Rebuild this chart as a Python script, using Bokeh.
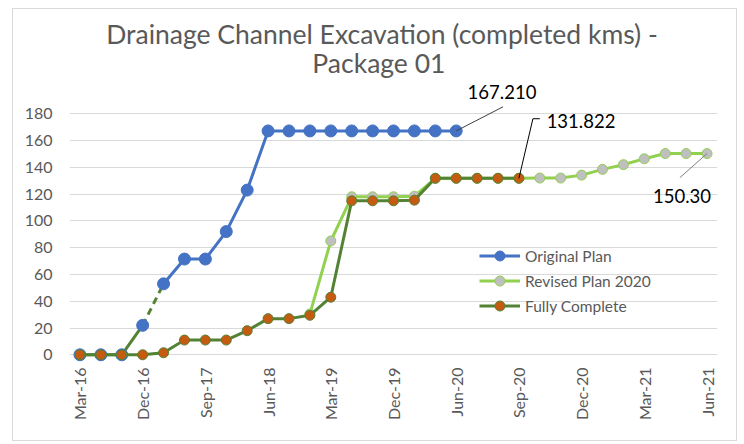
import math
from bokeh.plotting import figure
from bokeh.models import FixedTicker, Label, Legend, LegendItem
from bokeh.embed import file_html
from bokeh.resources import INLINE

# ---------------- data ----------------
categories = ["Mar-16", "Jun-16", "Sep-16", "Dec-16", "Mar-17", "Jun-17", "Sep-17",
              "Dec-17", "Mar-18", "Jun-18", "Sep-18", "Dec-18", "Mar-19", "Jun-19",
              "Sep-19", "Dec-19", "Feb-20", "Apr-20", "Jun-20", "Jul-20", "Aug-20",
              "Sep-20", "Oct-20", "Nov-20", "Dec-20", "Jan-21", "Feb-21", "Mar-21",
              "Apr-21", "May-21", "Jun-21"]
original_plan = [0, 0, 0, 22, 53, 71.5, 71.5, 92, 123, 167.21, 167.21, 167.21,
                 167.21, 167.21, 167.21, 167.21, 167.21, 167.21, 167.21]
revised_start = 11
revised_plan_2020 = [30.5, 85, 118, 118, 118, 118.5, 131.822, 131.822, 131.822,
                     131.822, 131.822, 132, 132, 134.2, 138.5, 142, 146.4, 150.3,
                     150.3, 150.3]
fully_complete = [0, 0, 0, 0, 1.5, 11, 11, 11, 18, 27, 27, 29.5, 43, 115, 115, 115,
                  115.5, 131.822, 131.822, 131.822, 131.822, 131.822]
y_ticks = [0, 20, 40, 60, 80, 100, 120, 140, 160, 180]
label_step = 3
title_lines = ["Drainage Channel Excavation (completed kms) -", "Package 01"]

BLUE = "#4472C4"
LTGREEN = "#92D050"
DKGREEN = "#548235"
ORANGE = "#C55A11"
GRAYM = "#BFBFBF"
TXT = "#595959"
FONT = "Lato"

n = len(categories)
p = figure(width=725, height=433, output_backend="svg", toolbar_location=None,
           x_range=(-0.5, n - 0.5), y_range=(-8, 257.9),
           min_border_left=56, min_border_right=21, min_border_top=0,
           min_border_bottom=77)
p.outline_line_color = None
p.background_fill_color = "white"
p.border_fill_color = "white"
p.styles = {"border": "1px solid #d9d9d9", "margin-left": "12px", "margin-top": "8px"}

# axes
ticks_x = list(range(0, n, label_step))
p.xaxis.ticker = FixedTicker(ticks=ticks_x)
p.xaxis.major_label_overrides = {i: categories[i] for i in ticks_x}
p.xaxis.major_label_orientation = math.pi / 2
p.xaxis.axis_line_color = None
p.xaxis.major_tick_line_color = None
p.xaxis.minor_tick_line_color = None
p.xaxis.major_tick_out = 0
p.xaxis.major_label_standoff = 2
p.xaxis.major_label_text_font = FONT
p.xaxis.major_label_text_font_size = "16px"
p.xaxis.major_label_text_color = TXT
p.xgrid.visible = False

p.yaxis.ticker = FixedTicker(ticks=y_ticks)
p.yaxis.axis_line_color = None
p.yaxis.major_tick_line_color = None
p.yaxis.minor_tick_line_color = None
p.yaxis.major_tick_out = 0
p.yaxis.major_label_standoff = 17
p.yaxis.major_label_text_font = FONT
p.yaxis.major_label_text_font_size = "16px"
p.yaxis.major_label_text_color = TXT
p.ygrid.grid_line_color = "#d9d9d9"
p.ygrid.grid_line_width = 1

# original plan
xo = list(range(len(original_plan)))
p.line(xo[:4], original_plan[:4], line_color=DKGREEN, line_width=3, line_join="round")
p.line(xo[3:5], original_plan[3:5], line_color=DKGREEN, line_width=3, line_dash="7 5")
blue_line = p.line(xo[4:], original_plan[4:], line_color=BLUE, line_width=3, line_join="round")
blue_pts = p.scatter(xo, original_plan, size=12, fill_color=BLUE, line_color=BLUE)

# revised plan
xr = list(range(revised_start, revised_start + len(revised_plan_2020)))
rev_line = p.line(xr, revised_plan_2020, line_color=LTGREEN, line_width=3, line_join="round")
rev_pts = p.scatter(xr, revised_plan_2020, size=10, fill_color=GRAYM, line_color=LTGREEN, line_width=1)

# fully complete
xf = list(range(len(fully_complete)))
fc_line = p.line(xf, fully_complete, line_color=DKGREEN, line_width=3, line_join="round")
fc_pts = p.scatter(xf, fully_complete, size=10, fill_color=ORANGE, line_color=DKGREEN, line_width=1)

# leaders + data labels
io, vo = xo[-1], original_plan[-1]
p.segment(x0=[io], y0=[vo], x1=[io + 2.24], y1=[vo + 18], line_color="#404040", line_width=1)
p.add_layout(Label(x=io + 2.19, y=vo + 29.2, text=f"{vo:.3f}", text_align="center",
                   text_baseline="middle", text_font=FONT, text_font_size="18.5px",
                   text_color="#000000"))

i_f, v_f = xf[-1], fully_complete[-1]
p.line([i_f, i_f + 0.67, i_f + 1.0], [v_f, v_f + 44.5, v_f + 44.5], line_color="#000000", line_width=1)
p.add_layout(Label(x=i_f + 2.97, y=v_f + 43, text=f"{v_f:.3f}", text_align="center",
                   text_baseline="middle", text_font=FONT, text_font_size="18.5px",
                   text_color="#000000"))

i_r, v_r = xr[-1], revised_plan_2020[-1]
p.segment(x0=[i_r], y0=[v_r], x1=[i_r - 1.3], y1=[v_r - 18], line_color="#7f7f7f", line_width=1)
p.add_layout(Label(x=i_r - 1.2, y=v_r - 31.5, text=f"{v_r:.2f}", text_align="center",
                   text_baseline="middle", text_font=FONT, text_font_size="18.5px",
                   text_color="#000000"))

# title
p.add_layout(Label(x=14.45, y=239.7, text=title_lines[0], text_align="center",
                   text_baseline="middle", text_font=FONT, text_font_size="26.5px",
                   text_color=TXT))
p.add_layout(Label(x=14.3, y=218.1, text=title_lines[1], text_align="center",
                   text_baseline="middle", text_font=FONT, text_font_size="26.5px",
                   text_color=TXT))

legend = Legend(items=[
    LegendItem(label="Original Plan", renderers=[blue_line, blue_pts]),
    LegendItem(label="Revised Plan 2020", renderers=[rev_line, rev_pts]),
    LegendItem(label="Fully Complete", renderers=[fc_line, fc_pts]),
], location=(410, 47), padding=0, margin=0, spacing=0, glyph_width=41,
    glyph_height=25, label_height=25, label_standoff=5,
    label_text_font=FONT, label_text_font_size="15.5px", label_text_color=TXT,
    border_line_color=None, background_fill_alpha=0)
p.add_layout(legend)

open("out.html", "w").write(file_html(p, INLINE))
